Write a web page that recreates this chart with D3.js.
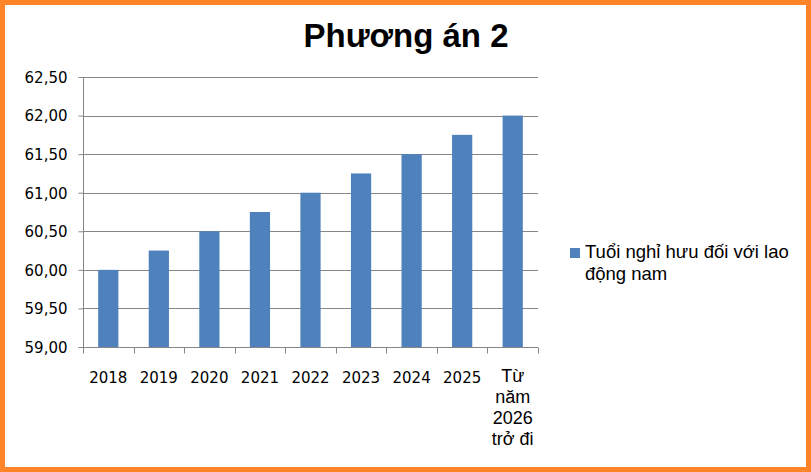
<!DOCTYPE html>
<html>
<head>
<meta charset="utf-8">
<script src="https://cdn.jsdelivr.net/npm/d3@7"></script>
<style>
    html, body { margin: 0; padding: 0; background: #fff; }
    svg { display: block; }
</style>
</head>
<body>
<div id="chart"></div>
<script>
(function () {
    const categories = ["2018", "2019", "2020", "2021", "2022", "2023", "2024", "2025", "Từ năm 2026 trở đi"];
    const categoryLines = [["2018"], ["2019"], ["2020"], ["2021"], ["2022"], ["2023"], ["2024"], ["2025"], ["Từ", "năm", "2026", "trở đi"]];
    const retirementAge = [60.00, 60.25, 60.50, 60.75, 61.00, 61.25, 61.50, 61.75, 62.00];
    const yTicks = [59.0, 59.5, 60.0, 60.5, 61.0, 61.5, 62.0, 62.5];
    const seriesName = ["Tuổi nghỉ hưu đối với lao", "động nam"];
    const title = "Phương án 2";

    const width = 811;
    const height = 472;
    const plot = { left: 83, right: 538, top: 77, bottom: 347 };

    const svg = d3.select("#chart")
        .append("svg")
        .attr("width", width)
        .attr("height", height);

    svg.append("rect")
        .attr("x", 2.5)
        .attr("y", 2.5)
        .attr("width", width - 5)
        .attr("height", height - 5)
        .attr("fill", "#fff")
        .attr("stroke", "#ff8427")
        .attr("stroke-width", 5);

    const x = d3.scaleBand()
        .domain(categories)
        .range([plot.left, plot.right]);

    const y = d3.scaleLinear()
        .domain([59, 62.5])
        .range([plot.bottom, plot.top]);

    const fmt = v => d3.format(".2f")(v).replace(".", ",");

    // gridlines
    svg.append("g")
        .selectAll("line")
        .data(yTicks.slice(1))
        .join("line")
        .attr("x1", plot.left)
        .attr("x2", plot.right)
        .attr("y1", d => Math.round(y(d)) + 0.5)
        .attr("y2", d => Math.round(y(d)) + 0.5)
        .attr("stroke", "#868686")
        .attr("stroke-width", 1);

    // bars
    const barW = x.bandwidth() * 0.4;
    svg.append("g")
        .selectAll("rect")
        .data(retirementAge)
        .join("rect")
        .attr("x", (d, i) => x(categories[i]) + (x.bandwidth() - barW) / 2)
        .attr("y", d => y(d))
        .attr("width", barW)
        .attr("height", d => y(59) - y(d))
        .attr("fill", "#4f81bd");

    // y axis
    const yAxis = svg.append("g")
        .attr("transform", `translate(${plot.left + 0.5},0)`)
        .call(d3.axisLeft(y).tickValues(yTicks).tickFormat(fmt).tickSize(5).tickPadding(11));
    yAxis.select(".domain").attr("stroke", "#868686").attr("d", `M0,${plot.top}V${plot.bottom}`);
    yAxis.selectAll(".tick line").attr("stroke", "#868686");
    yAxis.selectAll(".tick text")
        .attr("font-family", "DejaVu Sans")
        .attr("font-size", 15)
        .attr("fill", "#000")
        .attr("dy", "0.36em");

    // x axis
    const xAxis = svg.append("g")
        .attr("transform", `translate(0,${plot.bottom + 0.5})`)
        .call(d3.axisBottom(x).tickValues([]).tickSize(0));
    xAxis.select(".domain").attr("stroke", "#868686").attr("d", `M${plot.left},0H${plot.right}`);

    const boundaries = categories.map(c => x(c)).concat([x.range()[1]]);
    xAxis.selectAll(".sep")
        .data(boundaries)
        .join("line")
        .attr("class", "sep")
        .attr("x1", d => Math.round(d) + 0.5)
        .attr("x2", d => Math.round(d) + 0.5)
        .attr("y1", 0)
        .attr("y2", 6)
        .attr("stroke", "#868686");

    const labels = svg.append("g")
        .selectAll("text")
        .data(categoryLines)
        .join("text")
        .attr("text-anchor", "middle")
        .attr("fill", "#000")
        .attr("font-family", (d) => d.length > 1 ? "Liberation Sans, Arial" : "DejaVu Sans")
        .attr("font-size", (d) => d.length > 1 ? 18 : 15)
        .attr("x", (d, i) => x(categories[i]) + x.bandwidth() / 2)
        .attr("y", (d) => d.length > 1 ? 382 : 383);

    labels.selectAll("tspan")
        .data(d => d)
        .join("tspan")
        .attr("x", function () { return d3.select(this.parentNode).attr("x"); })
        .attr("dy", (d, i) => i === 0 ? 0 : 21)
        .text(d => d);

    // title
    svg.append("text")
        .attr("x", 406)
        .attr("y", 47)
        .attr("text-anchor", "middle")
        .attr("font-family", "Liberation Sans, Arial")
        .attr("font-weight", "bold")
        .attr("font-size", 33)
        .attr("fill", "#000")
        .text(title);

    // legend
    const legend = svg.append("g");
    legend.append("rect")
        .attr("x", 570)
        .attr("y", 248)
        .attr("width", 10)
        .attr("height", 10)
        .attr("fill", "#4f81bd");
    legend.append("text")
        .attr("font-family", "Liberation Sans, Arial")
        .attr("font-size", 18.5)
        .attr("fill", "#000")
        .selectAll("tspan")
        .data(seriesName)
        .join("tspan")
        .attr("x", 585)
        .attr("y", (d, i) => 258 + i * 22)
        .text(d => d);
})();
</script>
</body>
</html>
